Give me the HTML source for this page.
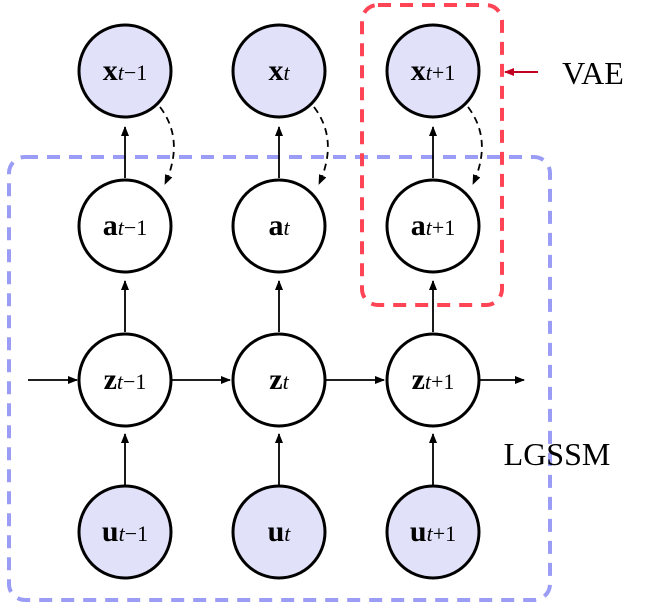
<!DOCTYPE html>
<html><head><style>
html,body{margin:0;padding:0;background:#fff;}
svg{display:block;}
text{font-family:"Liberation Serif",serif;}
</style></head><body>
<svg width="647" height="605" viewBox="0 0 647 605" xmlns="http://www.w3.org/2000/svg">
<defs>
<marker id="ah" markerWidth="10" markerHeight="8" refX="9" refY="4" orient="auto" markerUnits="userSpaceOnUse">
<path d="M0,0 L10,4 L0,8 Z" fill="#000"/></marker>
<marker id="ahr" markerWidth="10" markerHeight="8" refX="9" refY="4" orient="auto" markerUnits="userSpaceOnUse">
<path d="M0,0 L10,4 L0,8 Z" fill="#c00020"/></marker>
</defs>
<!-- blue box -->
<rect x="9" y="157" width="541" height="443" rx="16" fill="none" stroke="#9a9cf6" stroke-width="4" stroke-dasharray="13,9"/>
<!-- red box -->
<rect x="362" y="5" width="140" height="300" rx="16" fill="none" stroke="#ff4455" stroke-width="4" stroke-dasharray="13,9"/>
<g stroke="#000" stroke-width="1.8" fill="none">
<!-- vertical arrows -->
<line x1="125" y1="178" x2="125" y2="127" marker-end="url(#ah)"/>
<line x1="279" y1="178" x2="279" y2="127" marker-end="url(#ah)"/>
<line x1="433" y1="178" x2="433" y2="127" marker-end="url(#ah)"/>
<line x1="125" y1="332" x2="125" y2="281" marker-end="url(#ah)"/>
<line x1="279" y1="332" x2="279" y2="281" marker-end="url(#ah)"/>
<line x1="433" y1="332" x2="433" y2="281" marker-end="url(#ah)"/>
<line x1="125" y1="485" x2="125" y2="434" marker-end="url(#ah)"/>
<line x1="279" y1="485" x2="279" y2="434" marker-end="url(#ah)"/>
<line x1="433" y1="485" x2="433" y2="434" marker-end="url(#ah)"/>
<!-- horizontal -->
<line x1="28" y1="380" x2="77" y2="380" marker-end="url(#ah)"/>
<line x1="172" y1="380" x2="230" y2="380" marker-end="url(#ah)"/>
<line x1="326" y1="380" x2="384" y2="380" marker-end="url(#ah)"/>
<line x1="480" y1="380" x2="524" y2="380" marker-end="url(#ah)"/>
<!-- dashed curves -->
<path d="M160,107 Q185,140 165,184" stroke-dasharray="7,5" marker-end="url(#ah)"/>
<path d="M314,107 Q339,140 319,184" stroke-dasharray="7,5" marker-end="url(#ah)"/>
<path d="M468,107 Q493,140 473,184" stroke-dasharray="7,5" marker-end="url(#ah)"/>
</g>
<line x1="538" y1="72" x2="505" y2="72" stroke="#c00020" stroke-width="2" marker-end="url(#ahr)"/>
<g stroke="#000" stroke-width="3">
<circle cx="125" cy="71" r="46" fill="#e1e1f9"/>
<circle cx="279" cy="71" r="46" fill="#e1e1f9"/>
<circle cx="433" cy="71" r="46" fill="#e1e1f9"/>
<circle cx="125" cy="226" r="46" fill="#fff"/>
<circle cx="279" cy="226" r="46" fill="#fff"/>
<circle cx="433" cy="226" r="46" fill="#fff"/>
<circle cx="125" cy="380" r="46" fill="#fff"/>
<circle cx="279" cy="380" r="46" fill="#fff"/>
<circle cx="433" cy="380" r="46" fill="#fff"/>
<circle cx="125" cy="532" r="46" fill="#e1e1f9"/>
<circle cx="279" cy="532" r="46" fill="#e1e1f9"/>
<circle cx="433" cy="532" r="46" fill="#e1e1f9"/>
</g>
<g font-size="30" text-anchor="middle">
<text x="125" y="80"><tspan font-weight="bold">x</tspan><tspan font-style="italic" font-size="22">t</tspan><tspan font-size="22">−1</tspan></text>
<text x="279" y="80"><tspan font-weight="bold">x</tspan><tspan font-style="italic" font-size="22">t</tspan></text>
<text x="433" y="80"><tspan font-weight="bold">x</tspan><tspan font-style="italic" font-size="22">t</tspan><tspan font-size="22">+1</tspan></text>
<text x="125" y="235"><tspan font-weight="bold">a</tspan><tspan font-style="italic" font-size="22">t</tspan><tspan font-size="22">−1</tspan></text>
<text x="279" y="235"><tspan font-weight="bold">a</tspan><tspan font-style="italic" font-size="22">t</tspan></text>
<text x="433" y="235"><tspan font-weight="bold">a</tspan><tspan font-style="italic" font-size="22">t</tspan><tspan font-size="22">+1</tspan></text>
<text x="125" y="389"><tspan font-weight="bold">z</tspan><tspan font-style="italic" font-size="22">t</tspan><tspan font-size="22">−1</tspan></text>
<text x="279" y="389"><tspan font-weight="bold">z</tspan><tspan font-style="italic" font-size="22">t</tspan></text>
<text x="433" y="389"><tspan font-weight="bold">z</tspan><tspan font-style="italic" font-size="22">t</tspan><tspan font-size="22">+1</tspan></text>
<text x="125" y="541"><tspan font-weight="bold">u</tspan><tspan font-style="italic" font-size="22">t</tspan><tspan font-size="22">−1</tspan></text>
<text x="279" y="541"><tspan font-weight="bold">u</tspan><tspan font-style="italic" font-size="22">t</tspan></text>
<text x="433" y="541"><tspan font-weight="bold">u</tspan><tspan font-style="italic" font-size="22">t</tspan><tspan font-size="22">+1</tspan></text>
</g>
<text x="593" y="84" font-size="32" text-anchor="middle">VAE</text>
<text x="557" y="465" font-size="32" text-anchor="middle">LGSSM</text>
</svg>
</body></html>
